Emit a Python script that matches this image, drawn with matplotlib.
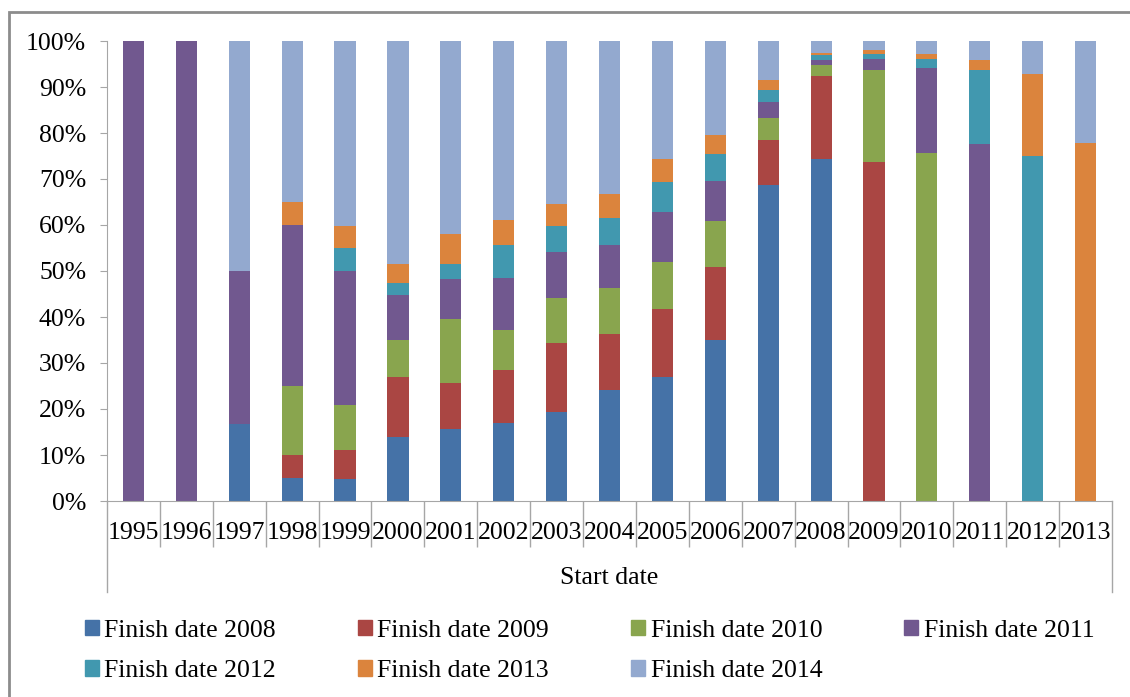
import matplotlib.pyplot as plt
from matplotlib.patches import Rectangle, Patch
from matplotlib.ticker import PercentFormatter, MultipleLocator
import numpy as np

plt.rcParams['font.family'] = ['Liberation Serif', 'DejaVu Serif']

years = ['1995', '1996', '1997', '1998', '1999', '2000', '2001', '2002', '2003', '2004',
         '2005', '2006', '2007', '2008', '2009', '2010', '2011', '2012', '2013']

# share of projects (%) by finish date, per start year
finish2008 = [0, 0, 16.7, 5, 4.7, 13.9, 15.6, 16.9, 19.3, 24.2, 26.9, 35.1, 68.6, 74.4, 0, 0, 0, 0, 0]
finish2009 = [0, 0, 0, 5, 6.4, 13.1, 10.0, 11.6, 15.0, 12.0, 14.9, 15.8, 9.8, 17.9, 73.6, 0, 0, 0, 0]
finish2010 = [0, 0, 0, 15, 9.8, 8.0, 14.0, 8.7, 9.9, 10.1, 10.2, 9.9, 4.9, 2.4, 20.0, 75.7, 0, 0, 0]
finish2011 = [100, 100, 33.3, 35, 29.1, 9.7, 8.6, 11.2, 9.9, 9.4, 10.9, 8.8, 3.4, 1.1, 2.4, 18.4, 77.6, 0, 0]
finish2012 = [0, 0, 0, 0, 4.9, 2.6, 3.4, 7.3, 5.6, 5.8, 6.4, 5.9, 2.7, 1.1, 1.2, 1.9, 16.1, 75, 0]
finish2013 = [0, 0, 0, 5, 4.8, 4.3, 6.5, 5.3, 4.8, 5.2, 5.1, 4.0, 2.1, 0.5, 0.8, 1.2, 2.1, 17.9, 77.8]
finish2014 = [0, 0, 50, 35, 40.3, 48.4, 41.9, 39.0, 35.5, 33.3, 25.6, 20.5, 8.5, 2.6, 2.0, 2.8, 4.2, 7.1, 22.2]

series = [finish2008, finish2009, finish2010, finish2011, finish2012, finish2013, finish2014]
labels = ['Finish date 2008', 'Finish date 2009', 'Finish date 2010', 'Finish date 2011',
          'Finish date 2012', 'Finish date 2013', 'Finish date 2014']
colors = ['#4572A7', '#AA4643', '#89A54E', '#71588F', '#4198AF', '#DB843D', '#93A9CF']

fig = plt.figure(figsize=(11.3, 6.97), dpi=100)
W, H = 1130, 697
ax = fig.add_axes([107 / W, 1 - 501 / H, (1112 - 107) / W, (501 - 41) / H])

x = np.arange(len(years))
bottom = np.zeros(len(years))
for vals, lab, col in zip(series, labels, colors):
    v = np.array(vals) / 100
    ax.bar(x, v, 0.4, bottom=bottom, color=col, label=lab)
    bottom += v

ax.set_xlim(-0.5, len(years) - 0.5)
ax.set_ylim(0, 1)

grey = '#a6a6a6'
for s in ['top', 'right']:
    ax.spines[s].set_visible(False)
ax.spines['left'].set_color(grey)
ax.spines['bottom'].set_color(grey)

ax.yaxis.set_major_locator(MultipleLocator(0.1))
ax.yaxis.set_major_formatter(PercentFormatter(1.0, decimals=0))
ax.tick_params(axis='y', direction='out', length=5, color=grey, pad=10, labelsize=18.5)

ax.set_xticks(x)
ax.set_xticklabels(years)
ax.set_xticks(np.arange(0.5, len(years) - 1), minor=True)
ax.tick_params(axis='x', which='major', length=0, pad=15, labelsize=18.5)
ax.tick_params(axis='x', which='minor', length=33, color=grey, width=1)

# outer lines of the category box
for xa in (0, 1):
    ax.plot([xa, xa], [0, -91 / 460], transform=ax.transAxes, color=grey,
            lw=1, clip_on=False)

ax.set_xlabel('Start date', fontsize=18.5, labelpad=11)

# legend, ordered so it reads row by row
order = [0, 4, 1, 5, 2, 6, 3]
handles = [Patch(color=colors[i], label=labels[i]) for i in order]
fig.legend(handles=handles, ncol=4, loc='center left', frameon=False,
           bbox_to_anchor=(85 / W, 1 - 651 / H), fontsize=18.5,
           handlelength=0.55, handleheight=0.55, handletextpad=0.2,
           columnspacing=3.2, labelspacing=0.72, borderpad=0, borderaxespad=0)

# chart area frame
fig.patches.append(Rectangle((9 / W, -0.1), 1.2, 1 - 12 / H + 0.1,
                             transform=fig.transFigure, fill=False,
                             edgecolor='#8c8c8c', lw=2))

fig.savefig('out.png', dpi=100)
